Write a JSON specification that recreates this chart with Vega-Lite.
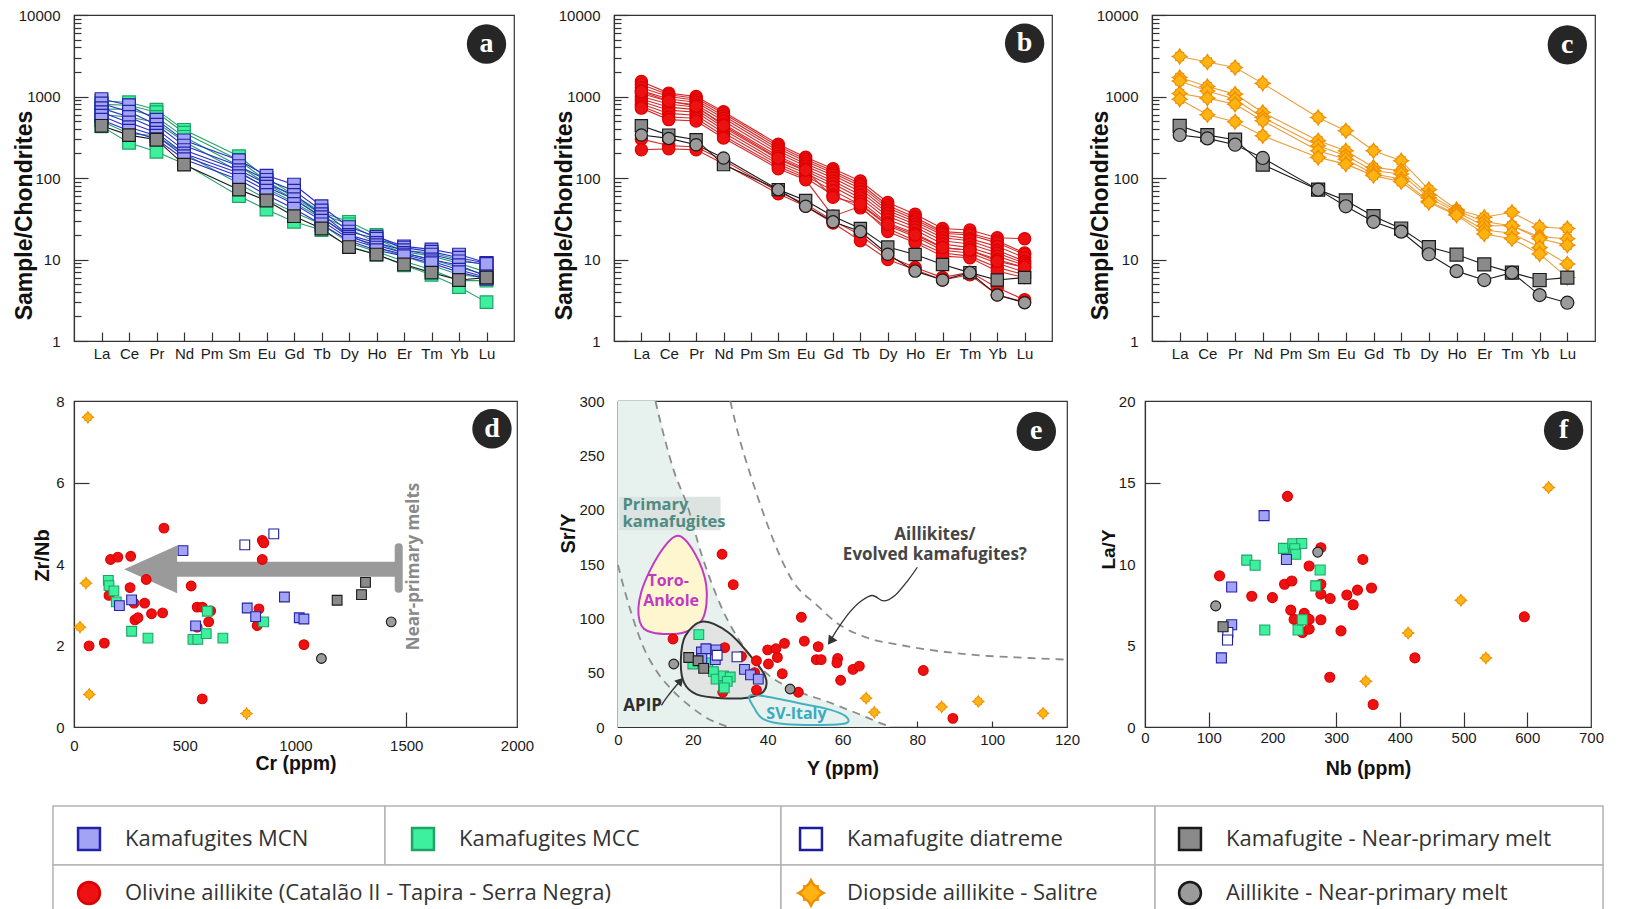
{
"$schema": "https://vega.github.io/schema/vega-lite/v6.json",
"padding": {"left": 12, "top": 7, "right": 0, "bottom": 0},
"background": "white",
"config": {
  "font": "Liberation Sans",
  "view": {"stroke": "#333333", "strokeWidth": 1.2},
  "axis": {"grid": false, "domainColor": "#333333", "domainWidth": 1.2, "tickColor": "#333333", "tickWidth": 1.2, "labelColor": "#1a1a1a", "titleColor": "#111111", "labelFont": "Liberation Sans", "titleFont": "Liberation Sans", "labelFontSize": 15, "titleFontWeight": "bold", "labelFlush": false, "labelOverlap": false}
},
"datasets": {
  "ree": [
    {"p":"a","g":"MCC","id":"g1","La":880,"Ce":850,"Pr":690,"Nd":390,"Sm":185,"Eu":100,"Gd":62,"Tb":38,"Dy":29,"Ho":20,"Er":13,"Tm":12,"Yb":10,"Lu":8.5},
    {"p":"a","g":"MCC","id":"g2","La":800,"Ce":780,"Pr":640,"Nd":360,"Sm":165,"Eu":92,"Gd":58,"Tb":36,"Dy":27,"Ho":18,"Er":12.5,"Tm":11,"Yb":9,"Lu":7},
    {"p":"a","g":"MCC","id":"g3","La":700,"Ce":700,"Pr":560,"Nd":320,"Sm":140,"Eu":85,"Gd":55,"Tb":34,"Dy":24,"Ho":16,"Er":12,"Tm":10,"Yb":8,"Lu":6.5},
    {"p":"a","g":"MCC","id":"g4","La":600,"Ce":560,"Pr":480,"Nd":280,"Sm":120,"Eu":75,"Gd":50,"Tb":32,"Dy":20,"Ho":14,"Er":11,"Tm":8.5,"Yb":6.5,"Lu":6},
    {"p":"a","g":"MCC","id":"g5","La":500,"Ce":350,"Pr":330,"Nd":200,"Sm":85,"Eu":55,"Gd":38,"Tb":27,"Dy":16,"Ho":12.5,"Er":9.5,"Tm":7.5,"Yb":5.5,"Lu":5.5},
    {"p":"a","g":"MCC","id":"g6","La":430,"Ce":270,"Pr":210,"Nd":150,"Sm":60,"Eu":41,"Gd":29,"Tb":23,"Dy":14.5,"Ho":11.5,"Er":8.5,"Tm":6.5,"Yb":4.6,"Lu":3.0},
    {"p":"a","g":"MCN","id":"m1","La":930,"Ce":780,"Pr":520,"Nd":290,"Sm":165,"Eu":107,"Gd":83,"Tb":45,"Dy":25,"Ho":19,"Er":14.5,"Tm":13.3,"Yb":11.5,"Lu":9.1},
    {"p":"a","g":"MCN","id":"m2","La":820,"Ce":650,"Pr":450,"Nd":250,"Sm":140,"Eu":95,"Gd":70,"Tb":40,"Dy":22,"Ho":18,"Er":14,"Tm":12.5,"Yb":10.5,"Lu":9.0},
    {"p":"a","g":"MCN","id":"m3","La":720,"Ce":560,"Pr":400,"Nd":220,"Sm":125,"Eu":85,"Gd":62,"Tb":36,"Dy":20,"Ho":16,"Er":13,"Tm":11.5,"Yb":9.5,"Lu":8.8},
    {"p":"a","g":"MCN","id":"m4","La":640,"Ce":480,"Pr":360,"Nd":200,"Sm":115,"Eu":78,"Gd":55,"Tb":33,"Dy":19,"Ho":15,"Er":12,"Tm":10,"Yb":8.5,"Lu":6.2},
    {"p":"a","g":"MCN","id":"m5","La":580,"Ce":420,"Pr":330,"Nd":185,"Sm":105,"Eu":70,"Gd":48,"Tb":30,"Dy":18,"Ho":14,"Er":11.5,"Tm":9.5,"Yb":7.5,"Lu":6.0},
    {"p":"a","g":"MCN","id":"m6","La":520,"Ce":380,"Pr":300,"Nd":170,"Sm":95,"Eu":62,"Gd":42,"Tb":27,"Dy":17,"Ho":13,"Er":11,"Tm":9,"Yb":7,"Lu":5.8},
    {"p":"b","g":"Olivine","id":"r1","La":1530,"Ce":1100,"Pr":1000,"Nd":650,"Sm":260,"Eu":180,"Gd":130,"Tb":92,"Dy":50,"Ho":36,"Er":24,"Tm":23,"Yb":18.5,"Lu":18},
    {"p":"b","g":"Olivine","id":"r2","La":1400,"Ce":1050,"Pr":950,"Nd":620,"Sm":245,"Eu":170,"Gd":122,"Tb":85,"Dy":46,"Ho":33,"Er":22,"Tm":21,"Yb":17,"Lu":12},
    {"p":"b","g":"Olivine","id":"r3","La":1280,"Ce":1000,"Pr":900,"Nd":580,"Sm":230,"Eu":160,"Gd":115,"Tb":80,"Dy":43,"Ho":31,"Er":21,"Tm":20,"Yb":16,"Lu":11.5},
    {"p":"b","g":"Olivine","id":"r4","La":1180,"Ce":930,"Pr":850,"Nd":540,"Sm":215,"Eu":150,"Gd":108,"Tb":74,"Dy":40,"Ho":29,"Er":20,"Tm":18,"Yb":14.5,"Lu":10.5},
    {"p":"b","g":"Olivine","id":"r5","La":1090,"Ce":870,"Pr":790,"Nd":500,"Sm":200,"Eu":140,"Gd":100,"Tb":68,"Dy":37,"Ho":27,"Er":18.5,"Tm":17,"Yb":13,"Lu":9.5},
    {"p":"b","g":"Olivine","id":"r6","La":1000,"Ce":810,"Pr":740,"Nd":460,"Sm":185,"Eu":130,"Gd":92,"Tb":62,"Dy":34,"Ho":25,"Er":17,"Tm":15.5,"Yb":12,"Lu":9},
    {"p":"b","g":"Olivine","id":"r7","La":930,"Ce":740,"Pr":690,"Nd":420,"Sm":170,"Eu":122,"Gd":85,"Tb":57,"Dy":31,"Ho":23,"Er":15.5,"Tm":14,"Yb":11,"Lu":8.5},
    {"p":"b","g":"Olivine","id":"r8","La":870,"Ce":680,"Pr":640,"Nd":390,"Sm":158,"Eu":114,"Gd":78,"Tb":52,"Dy":28,"Ho":21,"Er":14,"Tm":13,"Yb":10,"Lu":8},
    {"p":"b","g":"Olivine","id":"r9","La":810,"Ce":620,"Pr":590,"Nd":360,"Sm":148,"Eu":106,"Gd":70,"Tb":47,"Dy":26,"Ho":19,"Er":13,"Tm":12,"Yb":9,"Lu":7},
    {"p":"b","g":"Olivine","id":"r10","La":760,"Ce":560,"Pr":540,"Nd":330,"Sm":138,"Eu":100,"Gd":62,"Tb":43,"Dy":24,"Ho":17,"Er":12,"Tm":11,"Yb":8,"Lu":6.5},
    {"p":"b","g":"Olivine","id":"r11","La":720,"Ce":520,"Pr":500,"Nd":310,"Sm":130,"Eu":95,"Gd":34,"Tb":45,"Dy":22,"Ho":16,"Er":11,"Tm":10.5,"Yb":7.2,"Lu":6},
    {"p":"b","g":"Olivine","id":"r12","La":1150,"Ce":880,"Pr":760,"Nd":440,"Sm":175,"Eu":125,"Gd":58,"Tb":48,"Dy":27,"Ho":20,"Er":14,"Tm":13,"Yb":9.5,"Lu":8},
    {"p":"b","g":"Olivine","id":"r13","La":300,"Ce":250,"Pr":240,"Nd":165,"Sm":68,"Eu":48,"Gd":30,"Tb":20,"Dy":11,"Ho":8,"Er":6,"Tm":7,"Yb":4.5,"Lu":3.2},
    {"p":"b","g":"Olivine","id":"r14","La":222,"Ce":228,"Pr":222,"Nd":150,"Sm":64,"Eu":45,"Gd":28,"Tb":17,"Dy":10,"Ho":7.5,"Er":5.6,"Tm":6.5,"Yb":3.7,"Lu":3.0},
    {"p":"c","g":"Diopside","id":"s1","La":3090,"Ce":2650,"Pr":2270,"Nd":1450,"Sm":553,"Eu":380,"Gd":216,"Tb":163,"Dy":72,"Ho":41,"Er":33,"Tm":38,"Yb":25,"Lu":24},
    {"p":"c","g":"Diopside","id":"s2","La":1710,"Ce":1325,"Pr":1070,"Nd":637,"Sm":286,"Eu":216,"Gd":135,"Tb":123,"Dy":62,"Ho":40,"Er":29,"Tm":26,"Yb":19,"Lu":18},
    {"p":"c","g":"Diopside","id":"s3","La":1550,"Ce":1170,"Pr":927,"Nd":553,"Sm":249,"Eu":187,"Gd":123,"Tb":112,"Dy":57,"Ho":38,"Er":26,"Tm":26,"Yb":18,"Lu":15},
    {"p":"c","g":"Diopside","id":"s4","La":1090,"Ce":955,"Pr":805,"Nd":504,"Sm":216,"Eu":170,"Gd":112,"Tb":97,"Dy":52,"Ho":36,"Er":23,"Tm":21,"Yb":14,"Lu":8.8},
    {"p":"c","g":"Diopside","id":"s5","La":927,"Ce":597,"Pr":490,"Nd":330,"Sm":179,"Eu":148,"Gd":107,"Tb":90,"Dy":50,"Ho":35,"Er":20.6,"Tm":18,"Yb":11.7,"Lu":6},
    {"p":"abc","g":"KNPM","id":"k1","La":437,"Ce":336,"Pr":295,"Nd":146,"Sm":72,"Eu":53,"Gd":34,"Tb":24,"Dy":14.2,"Ho":11.5,"Er":8.7,"Tm":6.9,"Yb":5.6,"Lu":6.0},
    {"p":"bc","g":"ANPM","id":"n1","La":337,"Ce":306,"Pr":256,"Nd":176,"Sm":72,"Eu":45,"Gd":29,"Tb":22,"Dy":11.6,"Ho":7.2,"Er":5.6,"Tm":6.9,"Yb":3.66,"Lu":2.95}
  ],
  "scat": [
    {"p":"d","g":"Olivine","x":68,"y":1.99},{"p":"d","g":"Olivine","x":137,"y":2.06},{"p":"d","g":"Olivine","x":165,"y":4.11},{"p":"d","g":"Olivine","x":198,"y":4.17},{"p":"d","g":"Olivine","x":256,"y":4.19},{"p":"d","g":"Olivine","x":158,"y":3.23},{"p":"d","g":"Olivine","x":253,"y":3.42},{"p":"d","g":"Olivine","x":271,"y":3.04},{"p":"d","g":"Olivine","x":275,"y":2.63},{"p":"d","g":"Olivine","x":289,"y":2.68},{"p":"d","g":"Olivine","x":319,"y":3.04},{"p":"d","g":"Olivine","x":326,"y":3.62},{"p":"d","g":"Olivine","x":350,"y":2.78},{"p":"d","g":"Olivine","x":400,"y":2.8},{"p":"d","g":"Olivine","x":406,"y":4.88},{"p":"d","g":"Olivine","x":529,"y":3.46},{"p":"d","g":"Olivine","x":556,"y":2.94},{"p":"d","g":"Olivine","x":579,"y":2.94},{"p":"d","g":"Olivine","x":617,"y":2.85},{"p":"d","g":"Olivine","x":608,"y":2.58},{"p":"d","g":"Olivine","x":556,"y":2.45},{"p":"d","g":"Olivine","x":579,"y":0.69},{"p":"d","g":"Olivine","x":850,"y":4.58},{"p":"d","g":"Olivine","x":857,"y":4.52},{"p":"d","g":"Olivine","x":850,"y":4.11},{"p":"d","g":"Olivine","x":835,"y":2.9},{"p":"d","g":"Olivine","x":827,"y":2.49},{"p":"d","g":"Olivine","x":1038,"y":2.02},
    {"p":"d","g":"Diopside","x":63,"y":7.6},{"p":"d","g":"Diopside","x":54,"y":3.53},{"p":"d","g":"Diopside","x":27,"y":2.45},{"p":"d","g":"Diopside","x":69,"y":0.8},{"p":"d","g":"Diopside","x":779,"y":0.33},
    {"p":"d","g":"MCC","x":155,"y":3.6},{"p":"d","g":"MCC","x":158,"y":3.47},{"p":"d","g":"MCC","x":180,"y":3.34},{"p":"d","g":"MCC","x":191,"y":3.07},{"p":"d","g":"MCC","x":260,"y":2.35},{"p":"d","g":"MCC","x":334,"y":2.18},{"p":"d","g":"MCC","x":537,"y":2.15},{"p":"d","g":"MCC","x":559,"y":2.15},{"p":"d","g":"MCC","x":597,"y":2.29},{"p":"d","g":"MCC","x":602,"y":2.84},{"p":"d","g":"MCC","x":672,"y":2.18},{"p":"d","g":"MCC","x":856,"y":2.58},
    {"p":"d","g":"MCN","x":492,"y":4.33},{"p":"d","g":"MCN","x":260,"y":3.12},{"p":"d","g":"MCN","x":205,"y":2.98},{"p":"d","g":"MCN","x":549,"y":2.48},{"p":"d","g":"MCN","x":782,"y":2.92},{"p":"d","g":"MCN","x":820,"y":2.71},{"p":"d","g":"MCN","x":950,"y":3.19},{"p":"d","g":"MCN","x":1017,"y":2.68},{"p":"d","g":"MCN","x":1038,"y":2.65},
    {"p":"d","g":"Diatreme","x":771,"y":4.47},{"p":"d","g":"Diatreme","x":902,"y":4.74},
    {"p":"d","g":"KNPM","x":1188,"y":3.11},{"p":"d","g":"KNPM","x":1298,"y":3.25},{"p":"d","g":"KNPM","x":1316,"y":3.55},
    {"p":"d","g":"ANPM","x":1117,"y":1.68},{"p":"d","g":"ANPM","x":1432,"y":2.58},
    {"p":"e","g":"Olivine","x":14.7,"y":81},{"p":"e","g":"Olivine","x":27.8,"y":159},{"p":"e","g":"Olivine","x":30.8,"y":131},{"p":"e","g":"Olivine","x":28.5,"y":73},{"p":"e","g":"Olivine","x":33,"y":65},{"p":"e","g":"Olivine","x":36.5,"y":50},{"p":"e","g":"Olivine","x":37,"y":34},{"p":"e","g":"Olivine","x":28,"y":32},{"p":"e","g":"Olivine","x":37,"y":61},{"p":"e","g":"Olivine","x":40,"y":71},{"p":"e","g":"Olivine","x":40.2,"y":58},{"p":"e","g":"Olivine","x":42.2,"y":72},{"p":"e","g":"Olivine","x":42.6,"y":64},{"p":"e","g":"Olivine","x":44.5,"y":77},{"p":"e","g":"Olivine","x":43.9,"y":49},{"p":"e","g":"Olivine","x":49,"y":101},{"p":"e","g":"Olivine","x":49.8,"y":79},{"p":"e","g":"Olivine","x":53.5,"y":74},{"p":"e","g":"Olivine","x":53,"y":62},{"p":"e","g":"Olivine","x":54.3,"y":62},{"p":"e","g":"Olivine","x":58.7,"y":63},{"p":"e","g":"Olivine","x":58.5,"y":59},{"p":"e","g":"Olivine","x":59.5,"y":43},{"p":"e","g":"Olivine","x":62.8,"y":53},{"p":"e","g":"Olivine","x":64.5,"y":56},{"p":"e","g":"Olivine","x":48.2,"y":32},{"p":"e","g":"Olivine","x":81.6,"y":52},{"p":"e","g":"Olivine","x":89.5,"y":8},
    {"p":"e","g":"Diopside","x":66.3,"y":26.5},{"p":"e","g":"Diopside","x":68.5,"y":13.5},{"p":"e","g":"Diopside","x":86.5,"y":18.5},{"p":"e","g":"Diopside","x":96.3,"y":23.5},{"p":"e","g":"Diopside","x":113.6,"y":12.6},
    {"p":"e","g":"MCC","x":21.6,"y":85},{"p":"e","g":"MCC","x":20,"y":58},{"p":"e","g":"MCC","x":24,"y":59},{"p":"e","g":"MCC","x":25.5,"y":51},{"p":"e","g":"MCC","x":26.2,"y":44},{"p":"e","g":"MCC","x":28.2,"y":47},{"p":"e","g":"MCC","x":30,"y":46},{"p":"e","g":"MCC","x":28.2,"y":38},{"p":"e","g":"MCC","x":29.2,"y":42},{"p":"e","g":"MCC","x":28.4,"y":36},
    {"p":"e","g":"MCN","x":22.3,"y":69},{"p":"e","g":"MCN","x":23.5,"y":72},{"p":"e","g":"MCN","x":26.2,"y":71},{"p":"e","g":"MCN","x":26,"y":62},{"p":"e","g":"MCN","x":22.4,"y":63},{"p":"e","g":"MCN","x":33.8,"y":53},{"p":"e","g":"MCN","x":35.4,"y":48},{"p":"e","g":"MCN","x":37.5,"y":44},
    {"p":"e","g":"Diatreme","x":31.8,"y":64.5},{"p":"e","g":"Diatreme","x":26.5,"y":66},
    {"p":"e","g":"KNPM","x":18.9,"y":64},{"p":"e","g":"KNPM","x":21.4,"y":61},{"p":"e","g":"KNPM","x":22.9,"y":54},
    {"p":"e","g":"ANPM","x":14.9,"y":58},{"p":"e","g":"ANPM","x":46,"y":35},
    {"p":"f","g":"Olivine","x":223.6,"y":14.15},{"p":"f","g":"Olivine","x":117,"y":9.27},{"p":"f","g":"Olivine","x":167.5,"y":8.02},{"p":"f","g":"Olivine","x":200,"y":7.94},{"p":"f","g":"Olivine","x":219,"y":8.76},{"p":"f","g":"Olivine","x":230.4,"y":8.96},{"p":"f","g":"Olivine","x":257.6,"y":9.88},{"p":"f","g":"Olivine","x":276,"y":11},{"p":"f","g":"Olivine","x":276,"y":8.76},{"p":"f","g":"Olivine","x":276,"y":8.15},{"p":"f","g":"Olivine","x":290.6,"y":7.88},{"p":"f","g":"Olivine","x":228.8,"y":7.17},{"p":"f","g":"Olivine","x":234,"y":6.6},{"p":"f","g":"Olivine","x":249.9,"y":6.97},{"p":"f","g":"Olivine","x":257.6,"y":6.6},{"p":"f","g":"Olivine","x":247.1,"y":5.8},{"p":"f","g":"Olivine","x":257.6,"y":6.0},{"p":"f","g":"Olivine","x":276,"y":6.58},{"p":"f","g":"Olivine","x":316.8,"y":8.1},{"p":"f","g":"Olivine","x":326.7,"y":7.5},{"p":"f","g":"Olivine","x":333.5,"y":8.4},{"p":"f","g":"Olivine","x":341.9,"y":10.28},{"p":"f","g":"Olivine","x":355.5,"y":8.53},{"p":"f","g":"Olivine","x":307.6,"y":5.9},{"p":"f","g":"Olivine","x":290,"y":3.05},{"p":"f","g":"Olivine","x":358.1,"y":1.38},{"p":"f","g":"Olivine","x":423.6,"y":4.24},{"p":"f","g":"Olivine","x":595.3,"y":6.76},
    {"p":"f","g":"Diopside","x":633.5,"y":14.7},{"p":"f","g":"Diopside","x":495.8,"y":7.78},{"p":"f","g":"Diopside","x":413,"y":5.76},{"p":"f","g":"Diopside","x":535,"y":4.24},{"p":"f","g":"Diopside","x":346.6,"y":2.81},
    {"p":"f","g":"MCC","x":159.7,"y":10.24},{"p":"f","g":"MCC","x":172.8,"y":9.92},{"p":"f","g":"MCC","x":217.3,"y":10.96},{"p":"f","g":"MCC","x":232,"y":11.24},{"p":"f","g":"MCC","x":246,"y":11.26},{"p":"f","g":"MCC","x":235,"y":10.94},{"p":"f","g":"MCC","x":236.6,"y":10.6},{"p":"f","g":"MCC","x":274.9,"y":9.63},{"p":"f","g":"MCC","x":268,"y":8.66},{"p":"f","g":"MCC","x":188,"y":5.95},{"p":"f","g":"MCC","x":240.3,"y":5.95},{"p":"f","g":"MCC","x":247,"y":6.58},
    {"p":"f","g":"MCN","x":186.9,"y":12.97},{"p":"f","g":"MCN","x":222,"y":10.28},{"p":"f","g":"MCN","x":136,"y":8.59},{"p":"f","g":"MCN","x":136,"y":6.27},{"p":"f","g":"MCN","x":119.9,"y":4.24},
    {"p":"f","g":"Diatreme","x":130,"y":5.8},{"p":"f","g":"Diatreme","x":129.5,"y":5.34},
    {"p":"f","g":"KNPM","x":122.5,"y":6.15},
    {"p":"f","g":"ANPM","x":111,"y":7.43},{"p":"f","g":"ANPM","x":271.2,"y":10.73}
  ],
  "e_shade": [{"x":0,"y":300},{"x":10,"y":300},{"x":12.5,"y":265},{"x":15,"y":235},{"x":18.5,"y":204},{"x":22.4,"y":158},{"x":24.2,"y":140},{"x":27.8,"y":109},{"x":32.2,"y":81},{"x":36.6,"y":60},{"x":40.2,"y":48},{"x":47.3,"y":34},{"x":56.2,"y":23},{"x":65,"y":11},{"x":71.7,"y":1.5},{"x":73,"y":0}],
  "e_curves": [
    {"c":"c1","x":0,"y":149},{"c":"c1","x":1.9,"y":124},{"c":"c1","x":4.1,"y":99},{"c":"c1","x":6.6,"y":75},{"c":"c1","x":10,"y":53},{"c":"c1","x":14.2,"y":35},{"c":"c1","x":19.3,"y":19},{"c":"c1","x":23.6,"y":8.6},{"c":"c1","x":29.5,"y":0},
    {"c":"c2","x":10,"y":300},{"c":"c2","x":12.5,"y":265},{"c":"c2","x":15,"y":235},{"c":"c2","x":18.5,"y":204},{"c":"c2","x":22.4,"y":158},{"c":"c2","x":24.2,"y":140},{"c":"c2","x":27.8,"y":109},{"c":"c2","x":32.2,"y":81},{"c":"c2","x":36.6,"y":60},{"c":"c2","x":40.2,"y":48},{"c":"c2","x":47.3,"y":34},{"c":"c2","x":56.2,"y":23},{"c":"c2","x":65,"y":11},{"c":"c2","x":71.7,"y":1.5},{"c":"c2","x":73,"y":0},
    {"c":"c3","x":30,"y":300},{"c":"c3","x":32.5,"y":265},{"c":"c3","x":35.4,"y":232},{"c":"c3","x":38.5,"y":200},{"c":"c3","x":41.4,"y":173},{"c":"c3","x":46.4,"y":136},{"c":"c3","x":53.2,"y":112},{"c":"c3","x":59.2,"y":94},{"c":"c3","x":65.9,"y":83},{"c":"c3","x":76.2,"y":75},{"c":"c3","x":93,"y":67},{"c":"c3","x":110,"y":63.5},{"c":"c3","x":120,"y":62}
  ],
  "e_poly": [
    {"k":"toro","i":0,"x":15.9,"y":176},{"k":"toro","i":1,"x":20.5,"y":160},{"k":"toro","i":2,"x":23.6,"y":130},{"k":"toro","i":3,"x":22.7,"y":100},{"k":"toro","i":4,"x":17.6,"y":87},{"k":"toro","i":5,"x":9.2,"y":87},{"k":"toro","i":6,"x":5.8,"y":97},{"k":"toro","i":7,"x":6.2,"y":124},{"k":"toro","i":8,"x":10.8,"y":158},
    {"k":"apip","i":0,"x":22.7,"y":97},{"k":"apip","i":1,"x":29.5,"y":87},{"k":"apip","i":2,"x":35.4,"y":65.5},{"k":"apip","i":3,"x":39.3,"y":47},{"k":"apip","i":4,"x":39,"y":33},{"k":"apip","i":5,"x":34.6,"y":27},{"k":"apip","i":6,"x":27.8,"y":26.5},{"k":"apip","i":7,"x":21,"y":30},{"k":"apip","i":8,"x":17.6,"y":41},{"k":"apip","i":9,"x":16.8,"y":62},{"k":"apip","i":10,"x":18,"y":84},
    {"k":"sv","i":0,"x":35.3,"y":29},{"k":"sv","i":1,"x":41.4,"y":27},{"k":"sv","i":2,"x":49.8,"y":21},{"k":"sv","i":3,"x":56.6,"y":16},{"k":"sv","i":4,"x":60.8,"y":10},{"k":"sv","i":5,"x":61.3,"y":4},{"k":"sv","i":6,"x":57,"y":2},{"k":"sv","i":7,"x":45,"y":2.5},{"k":"sv","i":8,"x":39,"y":7},{"k":"sv","i":9,"x":36.5,"y":17}
  ],
  "e_arrows": [
    {"k":"aill","i":0,"x":80,"y":147},{"k":"aill","i":1,"x":77.5,"y":135},{"k":"aill","i":2,"x":74,"y":121},{"k":"aill","i":3,"x":71,"y":116},{"k":"aill","i":4,"x":68,"y":121},{"k":"aill","i":5,"x":65,"y":116},{"k":"aill","i":6,"x":62,"y":106},{"k":"aill","i":7,"x":59,"y":92},{"k":"aill","i":8,"x":57.2,"y":82},
    {"k":"apip","i":0,"x":11.6,"y":20},{"k":"apip","i":1,"x":13,"y":27},{"k":"apip","i":2,"x":14.8,"y":35},{"k":"apip","i":3,"x":16.3,"y":41}
  ],
  "e_text": [
    {"k":"primary","x":1.2,"y":204.5,"t":"Primary"},{"k":"primary","x":1.2,"y":188.5,"t":"kamafugites"},
    {"k":"toro","x":13.4,"y":134,"t":"Toro-"},{"k":"toro","x":14.2,"y":115.5,"t":"Ankole"},
    {"k":"apip","x":6.6,"y":19.5,"t":"APIP"},
    {"k":"sv","x":47.7,"y":11.7,"t":"SV-Italy"},
    {"k":"aill","x":84.7,"y":177,"t":"Aillikites/"},{"k":"aill","x":84.7,"y":158.5,"t":"Evolved kamafugites?"}
  ],
  "leg_cells": [
    {"c0":0,"c1":1,"r0":0,"r1":1},{"c0":1,"c1":2,"r0":0,"r1":1},{"c0":2,"c1":3,"r0":0,"r1":1},{"c0":3,"c1":4,"r0":0,"r1":1},
    {"c0":0,"c1":2,"r0":1,"r1":2},{"c0":2,"c1":3,"r0":1,"r1":2},{"c0":3,"c1":4,"r0":1,"r1":2}
  ],
  "leg_items": [
    {"g":"MCN","t":"Kamafugites MCN","c":0,"r":0},
    {"g":"MCC","t":"Kamafugites MCC","c":1,"r":0},
    {"g":"Diatreme","t":"Kamafugite diatreme","c":2,"r":0},
    {"g":"KNPM","t":"Kamafugite - Near-primary melt","c":3,"r":0},
    {"g":"Olivine","t":"Olivine aillikite (Catalão II - Tapira - Serra Negra)","c":0,"r":1},
    {"g":"Diopside","t":"Diopside aillikite - Salitre","c":2,"r":1},
    {"g":"ANPM","t":"Aillikite - Near-primary melt","c":3,"r":1}
  ]
},
"vconcat": [
 {"vconcat": [
  {"hconcat": [
   {"width": 440, "height": 326,
    "encoding": {
     "x": {"field":"el","type":"ordinal","sort":["La","Ce","Pr","Nd","Pm","Sm","Eu","Gd","Tb","Dy","Ho","Er","Tm","Yb","Lu"],"scale":{"type":"point","domain":["La","Ce","Pr","Nd","Pm","Sm","Eu","Gd","Tb","Dy","Ho","Er","Tm","Yb","Lu"],"padding":1},"axis":{"title":null,"labelAngle":0,"labelPadding":14.5,"tickSize":-9}},
     "y": {"field":"v","type":"quantitative","scale":{"type":"log","domain":[1,10000],"nice":false},"axis":{"title":"Sample/Chondrites","titleFontSize":23,"titleX":-38,"titleY":200,"titleAngle":-90,"titleBaseline":"bottom","values":[1,2,3,4,5,6,7,8,9,10,20,30,40,50,60,70,80,90,100,200,300,400,500,600,700,800,900,1000,2000,3000,4000,5000,6000,7000,8000,9000,10000],"format":"d","labelExpr":"indexof([1,10,100,1000,10000], datum.value) >= 0 ? datum.label : ''","tickSize":{"condition":{"test":"indexof([1,10,100,1000,10000], datum.value) >= 0","value":-14},"value":-7},"labelPadding":28}}
    },
    "layer": [
     {"data":{"name":"ree"},"transform":[{"filter":"indexof(datum.p,'a') >= 0"},{"fold":["La","Ce","Pr","Nd","Sm","Eu","Gd","Tb","Dy","Ho","Er","Tm","Yb","Lu"],"as":["el","v"]}],
      "layer":[
       {"mark":{"type":"line","strokeWidth":1.1},"encoding":{"color":{"field":"g","type":"nominal","scale":{"domain":["MCN","MCC","Diatreme","KNPM","Olivine","Diopside","ANPM"],"range":["#2b2bd0","#27a070","#2b2bd0","#1a1a1a","#d42a2a","#eb9d3a","#1a1a1a"]},"legend":null},"detail":{"field":"id","type":"nominal"}}},
       {"mark":{"type":"point","filled":true,"opacity":1,"size":160,"strokeWidth":1.2},"encoding":{
         "shape":{"field":"g","type":"nominal","scale":{"domain":["MCN","MCC","Diatreme","KNPM","Olivine","Diopside","ANPM"],"range":["square","square","square","square","circle","M0,-1.15 Q0.3,-0.55 0.6,-0.6 Q0.55,-0.3 1.15,0 Q0.55,0.3 0.6,0.6 Q0.3,0.55 0,1.15 Q-0.3,0.55 -0.6,0.6 Q-0.55,0.3 -1.15,0 Q-0.55,-0.3 -0.6,-0.6 Q-0.3,-0.55 0,-1.15 Z","circle"]},"legend":null},
         "fill":{"field":"g","type":"nominal","scale":{"domain":["MCN","MCC","Diatreme","KNPM","Olivine","Diopside","ANPM"],"range":["#a3a3f5","#3df09e","#ffffff","#8a8a8a","#ee1111","#ffb412","#9b9b9b"]},"legend":null},
         "stroke":{"field":"g","type":"nominal","scale":{"domain":["MCN","MCC","Diatreme","KNPM","Olivine","Diopside","ANPM"],"range":["#2323a8","#1ea565","#1c1c9c","#1a1a1a","#dd0000","#ef8e00","#1a1a1a"]},"legend":null}}}
      ]},
     {"data":{"values":[{"el":"Lu","v":4400,"t":"a"}]},"layer":[
       {"mark":{"type":"point","shape":"circle","filled":true,"opacity":1,"size":1550,"color":"#262626"}},
       {"mark":{"type":"text","font":"Liberation Serif","fontWeight":"bold","fontSize":28,"color":"white","baseline":"middle","align":"center"},"encoding":{"text":{"field":"t"}}}
     ]}
    ]},
   {"width": 438, "height": 326,
    "encoding": {
     "x": {"field":"el","type":"ordinal","sort":["La","Ce","Pr","Nd","Pm","Sm","Eu","Gd","Tb","Dy","Ho","Er","Tm","Yb","Lu"],"scale":{"type":"point","domain":["La","Ce","Pr","Nd","Pm","Sm","Eu","Gd","Tb","Dy","Ho","Er","Tm","Yb","Lu"],"padding":1},"axis":{"title":null,"labelAngle":0,"labelPadding":14.5,"tickSize":-9}},
     "y": {"field":"v","type":"quantitative","scale":{"type":"log","domain":[1,10000],"nice":false},"axis":{"title":"Sample/Chondrites","titleFontSize":23,"titleX":-38,"titleY":200,"titleAngle":-90,"titleBaseline":"bottom","values":[1,2,3,4,5,6,7,8,9,10,20,30,40,50,60,70,80,90,100,200,300,400,500,600,700,800,900,1000,2000,3000,4000,5000,6000,7000,8000,9000,10000],"format":"d","labelExpr":"indexof([1,10,100,1000,10000], datum.value) >= 0 ? datum.label : ''","tickSize":{"condition":{"test":"indexof([1,10,100,1000,10000], datum.value) >= 0","value":-14},"value":-7},"labelPadding":28}}
    },
    "layer": [
     {"data":{"name":"ree"},"transform":[{"filter":"indexof(datum.p,'b') >= 0"},{"fold":["La","Ce","Pr","Nd","Sm","Eu","Gd","Tb","Dy","Ho","Er","Tm","Yb","Lu"],"as":["el","v"]}],
      "layer":[
       {"mark":{"type":"line","strokeWidth":1.1},"encoding":{"color":{"field":"g","type":"nominal","scale":{"domain":["MCN","MCC","Diatreme","KNPM","Olivine","Diopside","ANPM"],"range":["#2b2bd0","#27a070","#2b2bd0","#1a1a1a","#d42a2a","#eb9d3a","#1a1a1a"]},"legend":null},"detail":{"field":"id","type":"nominal"}}},
       {"mark":{"type":"point","filled":true,"opacity":1,"size":150,"strokeWidth":1.2},"encoding":{
         "shape":{"field":"g","type":"nominal","scale":{"domain":["MCN","MCC","Diatreme","KNPM","Olivine","Diopside","ANPM"],"range":["square","square","square","square","circle","M0,-1.15 Q0.3,-0.55 0.6,-0.6 Q0.55,-0.3 1.15,0 Q0.55,0.3 0.6,0.6 Q0.3,0.55 0,1.15 Q-0.3,0.55 -0.6,0.6 Q-0.55,0.3 -1.15,0 Q-0.55,-0.3 -0.6,-0.6 Q-0.3,-0.55 0,-1.15 Z","circle"]},"legend":null},
         "fill":{"field":"g","type":"nominal","scale":{"domain":["MCN","MCC","Diatreme","KNPM","Olivine","Diopside","ANPM"],"range":["#a3a3f5","#3df09e","#ffffff","#8a8a8a","#ee1111","#ffb412","#9b9b9b"]},"legend":null},
         "stroke":{"field":"g","type":"nominal","scale":{"domain":["MCN","MCC","Diatreme","KNPM","Olivine","Diopside","ANPM"],"range":["#2323a8","#1ea565","#1c1c9c","#1a1a1a","#dd0000","#ef8e00","#1a1a1a"]},"legend":null}}}
      ]},
     {"data":{"values":[{"el":"Lu","v":4500,"t":"b"}]},"layer":[
       {"mark":{"type":"point","shape":"circle","filled":true,"opacity":1,"size":1550,"color":"#262626"}},
       {"mark":{"type":"text","font":"Liberation Serif","fontWeight":"bold","fontSize":28,"color":"white","baseline":"middle","align":"center"},"encoding":{"text":{"field":"t"}}}
     ]}
    ]},
   {"width": 443, "height": 326,
    "encoding": {
     "x": {"field":"el","type":"ordinal","sort":["La","Ce","Pr","Nd","Pm","Sm","Eu","Gd","Tb","Dy","Ho","Er","Tm","Yb","Lu"],"scale":{"type":"point","domain":["La","Ce","Pr","Nd","Pm","Sm","Eu","Gd","Tb","Dy","Ho","Er","Tm","Yb","Lu"],"padding":1},"axis":{"title":null,"labelAngle":0,"labelPadding":14.5,"tickSize":-9}},
     "y": {"field":"v","type":"quantitative","scale":{"type":"log","domain":[1,10000],"nice":false},"axis":{"title":"Sample/Chondrites","titleFontSize":23,"titleX":-40,"titleY":200,"titleAngle":-90,"titleBaseline":"bottom","values":[1,2,3,4,5,6,7,8,9,10,20,30,40,50,60,70,80,90,100,200,300,400,500,600,700,800,900,1000,2000,3000,4000,5000,6000,7000,8000,9000,10000],"format":"d","labelExpr":"indexof([1,10,100,1000,10000], datum.value) >= 0 ? datum.label : ''","tickSize":{"condition":{"test":"indexof([1,10,100,1000,10000], datum.value) >= 0","value":-14},"value":-7},"labelPadding":28}}
    },
    "layer": [
     {"data":{"name":"ree"},"transform":[{"filter":"indexof(datum.p,'c') >= 0"},{"fold":["La","Ce","Pr","Nd","Sm","Eu","Gd","Tb","Dy","Ho","Er","Tm","Yb","Lu"],"as":["el","v"]}],
      "layer":[
       {"mark":{"type":"line","strokeWidth":1.1},"encoding":{"color":{"field":"g","type":"nominal","scale":{"domain":["MCN","MCC","Diatreme","KNPM","Olivine","Diopside","ANPM"],"range":["#2b2bd0","#27a070","#2b2bd0","#1a1a1a","#d42a2a","#eb9d3a","#1a1a1a"]},"legend":null},"detail":{"field":"id","type":"nominal"}}},
       {"mark":{"type":"point","filled":true,"opacity":1,"size":170,"strokeWidth":1.2},"encoding":{
         "shape":{"field":"g","type":"nominal","scale":{"domain":["MCN","MCC","Diatreme","KNPM","Olivine","Diopside","ANPM"],"range":["square","square","square","square","circle","M0,-1.15 Q0.3,-0.55 0.6,-0.6 Q0.55,-0.3 1.15,0 Q0.55,0.3 0.6,0.6 Q0.3,0.55 0,1.15 Q-0.3,0.55 -0.6,0.6 Q-0.55,0.3 -1.15,0 Q-0.55,-0.3 -0.6,-0.6 Q-0.3,-0.55 0,-1.15 Z","circle"]},"legend":null},
         "fill":{"field":"g","type":"nominal","scale":{"domain":["MCN","MCC","Diatreme","KNPM","Olivine","Diopside","ANPM"],"range":["#a3a3f5","#3df09e","#ffffff","#8a8a8a","#ee1111","#ffb412","#9b9b9b"]},"legend":null},
         "stroke":{"field":"g","type":"nominal","scale":{"domain":["MCN","MCC","Diatreme","KNPM","Olivine","Diopside","ANPM"],"range":["#2323a8","#1ea565","#1c1c9c","#1a1a1a","#dd0000","#ef8e00","#1a1a1a"]},"legend":null}}}
      ]},
     {"data":{"values":[{"el":"Lu","v":4300,"t":"c"}]},"layer":[
       {"mark":{"type":"point","shape":"circle","filled":true,"opacity":1,"size":1550,"color":"#262626"}},
       {"mark":{"type":"text","font":"Liberation Serif","fontWeight":"bold","fontSize":28,"color":"white","baseline":"middle","align":"center"},"encoding":{"text":{"field":"t"}}}
     ]}
    ]}
  ], "spacing": 100, "bounds": "flush"},
  {"hconcat": [
   {"width": 443, "height": 326,
    "encoding": {
     "x": {"field":"x","type":"quantitative","scale":{"domain":[0,2000],"nice":false,"zero":false},"axis":{"title":"Cr (ppm)","titleFontSize":19.5,"titleY":27,"titleBaseline":"top","values":[0,500,1000,1500,2000],"format":"d","tickSize":-15,"tickOpacity":{"condition":{"test":"datum.value == 1500","value":1},"value":0},"labelPadding":26.5}},
     "y": {"field":"y","type":"quantitative","scale":{"domain":[0,8],"nice":false,"zero":false},"axis":{"title":"Zr/Nb","titleFontSize":20,"titleX":-22,"titleY":154,"titleAngle":-90,"titleBaseline":"bottom","values":[0,2,4,6,8],"tickSize":-15,"tickOpacity":{"condition":{"test":"datum.value == 6","value":1},"value":0},"labelPadding":25}}
    },
    "layer": [
     {"data":{"values":[{"x":455,"x2":1465,"y":3.87}]},"mark":{"type":"rule","color":"#9a9a9a","strokeWidth":15},"encoding":{"x2":{"field":"x2"}}},
     {"data":{"values":[{"x":346,"y":3.87}]},"mark":{"type":"point","shape":"M-1,0 L1,-0.9 L1,0.9 Z","size":2809,"filled":true,"opacity":1,"color":"#9a9a9a","strokeWidth":0}},
     {"data":{"values":[{"x":1466,"y":3.39,"y2":4.41}]},"mark":{"type":"rule","color":"#9a9a9a","strokeWidth":8,"strokeCap":"round"},"encoding":{"y2":{"field":"y2"}}},
     {"data":{"values":[{"x":1534,"y":3.94,"t":"Near-primary melts"}]},"mark":{"type":"text","angle":270,"font":"Open Sans","fontWeight":"bold","fontSize":17,"color":"#8a8a8a","align":"center","baseline":"middle"},"encoding":{"text":{"field":"t"}}},
     {"data":{"name":"scat"},"transform":[{"filter":"datum.p == 'd'"}],"mark":{"type":"point","filled":true,"opacity":1,"size":95,"strokeWidth":1.1},"encoding":{
         "shape":{"field":"g","type":"nominal","scale":{"domain":["MCN","MCC","Diatreme","KNPM","Olivine","Diopside","ANPM"],"range":["square","square","square","square","circle","M0,-1.15 Q0.3,-0.55 0.6,-0.6 Q0.55,-0.3 1.15,0 Q0.55,0.3 0.6,0.6 Q0.3,0.55 0,1.15 Q-0.3,0.55 -0.6,0.6 Q-0.55,0.3 -1.15,0 Q-0.55,-0.3 -0.6,-0.6 Q-0.3,-0.55 0,-1.15 Z","circle"]},"legend":null},
         "fill":{"field":"g","type":"nominal","scale":{"domain":["MCN","MCC","Diatreme","KNPM","Olivine","Diopside","ANPM"],"range":["#a3a3f5","#3df09e","#ffffff","#8a8a8a","#ee1111","#ffb412","#9b9b9b"]},"legend":null},
         "stroke":{"field":"g","type":"nominal","scale":{"domain":["MCN","MCC","Diatreme","KNPM","Olivine","Diopside","ANPM"],"range":["#2323a8","#1ea565","#1c1c9c","#1a1a1a","#dd0000","#ef8e00","#1a1a1a"]},"legend":null}}},
     {"data":{"values":[{"x":1887,"y":7.32,"t":"d"}]},"layer":[
       {"mark":{"type":"point","shape":"circle","filled":true,"opacity":1,"size":1550,"color":"#262626"}},
       {"mark":{"type":"text","font":"Liberation Serif","fontWeight":"bold","fontSize":28,"color":"white","baseline":"middle","align":"center"},"encoding":{"text":{"field":"t"}}}
     ]}
    ]},
   {"hconcat": [
    {"width": 449, "height": 326,
     "encoding": {
      "x": {"field":"x","type":"quantitative","scale":{"domain":[0,120],"nice":false,"zero":false},"axis":{"title":"Y (ppm)","titleFontSize":19.5,"titleY":32,"titleBaseline":"top","values":[0,20,40,60,80,100,120],"tickSize":-6,"tickOpacity":{"condition":{"test":"indexof([20,80,100], datum.value) >= 0","value":1},"value":0},"labelPadding":11.5}},
      "y": {"field":"y","type":"quantitative","scale":{"domain":[0,300],"nice":false,"zero":false},"axis":{"title":"Sr/Y","titleFontSize":20,"titleX":-40,"titleY":132,"titleAngle":-90,"titleBaseline":"bottom","values":[0,50,100,150,200,250,300],"tickSize":-15,"tickOpacity":{"condition":{"test":"indexof([150,250], datum.value) >= 0","value":1},"value":0},"labelPadding":29}}
     },
     "layer": [
      {"data":{"name":"e_shade"},"mark":{"type":"area","color":"#e7f2ee","opacity":1,"interpolate":"monotone"},"encoding":{"y2":{"datum":0}}},
      {"data":{"values":[{"x":0.3,"x2":27.4,"y":181,"y2":212}]},"mark":{"type":"rect","color":"#dde3e1"},"encoding":{"x2":{"field":"x2"},"y2":{"field":"y2"}}},
      {"data":{"name":"e_curves"},"mark":{"type":"line","color":"#8c8c8c","strokeWidth":1.8,"strokeDash":[8,6],"interpolate":"monotone"},"encoding":{"detail":{"field":"c","type":"nominal"}}},
      {"data":{"name":"e_poly"},"transform":[{"filter":"datum.k == 'toro'"}],"mark":{"type":"line","interpolate":"cardinal-closed","fill":"#fdf6cf","stroke":"#c23ac2","strokeWidth":2},"encoding":{"order":{"field":"i","type":"quantitative"}}},
      {"data":{"name":"e_poly"},"transform":[{"filter":"datum.k == 'apip'"}],"mark":{"type":"line","interpolate":"cardinal-closed","fill":"#e1e1e1","fillOpacity":0.9,"stroke":"#333333","strokeWidth":2},"encoding":{"order":{"field":"i","type":"quantitative"}}},
      {"data":{"name":"e_poly"},"transform":[{"filter":"datum.k == 'sv'"}],"mark":{"type":"line","interpolate":"cardinal-closed","stroke":"#45b0c2","strokeWidth":2},"encoding":{"order":{"field":"i","type":"quantitative"}}},
      {"data":{"name":"e_arrows"},"mark":{"type":"line","color":"#333333","strokeWidth":1.3,"interpolate":"cardinal"},"encoding":{"detail":{"field":"k","type":"nominal"},"order":{"field":"i","type":"quantitative"}}},
      {"data":{"values":[{"x":56.8,"y":79}]},"mark":{"type":"point","shape":"triangle-down","angle":35,"size":110,"filled":true,"opacity":1,"color":"#333333"}},
      {"data":{"values":[{"x":16.7,"y":42.5}]},"mark":{"type":"point","shape":"triangle-up","angle":41,"size":90,"filled":true,"opacity":1,"color":"#333333"}},
      {"data":{"name":"e_text"},"transform":[{"filter":"datum.k == 'primary'"}],"mark":{"type":"text","align":"left","baseline":"middle","font":"Open Sans","fontWeight":"bold","fontSize":16.5,"color":"#4e8c82"},"encoding":{"text":{"field":"t"}}},
      {"data":{"name":"e_text"},"transform":[{"filter":"datum.k == 'toro'"}],"mark":{"type":"text","align":"center","baseline":"middle","font":"Open Sans","fontWeight":"bold","fontSize":16,"color":"#c23ac2"},"encoding":{"text":{"field":"t"}}},
      {"data":{"name":"e_text"},"transform":[{"filter":"datum.k == 'apip'"}],"mark":{"type":"text","align":"center","baseline":"middle","font":"Open Sans","fontWeight":"bold","fontSize":17,"color":"#2e2e2e"},"encoding":{"text":{"field":"t"}}},
      {"data":{"name":"e_text"},"transform":[{"filter":"datum.k == 'sv'"}],"mark":{"type":"text","align":"center","baseline":"middle","font":"Open Sans","fontWeight":"bold","fontSize":16,"color":"#3aaac0"},"encoding":{"text":{"field":"t"}}},
      {"data":{"name":"e_text"},"transform":[{"filter":"datum.k == 'aill'"}],"mark":{"type":"text","align":"center","baseline":"middle","font":"Open Sans","fontWeight":"bold","fontSize":17,"color":"#454545"},"encoding":{"text":{"field":"t"}}},
      {"data":{"name":"scat"},"transform":[{"filter":"datum.p == 'e'"}],"mark":{"type":"point","filled":true,"opacity":1,"size":95,"strokeWidth":1.1},"encoding":{
         "shape":{"field":"g","type":"nominal","scale":{"domain":["MCN","MCC","Diatreme","KNPM","Olivine","Diopside","ANPM"],"range":["square","square","square","square","circle","M0,-1.15 Q0.3,-0.55 0.6,-0.6 Q0.55,-0.3 1.15,0 Q0.55,0.3 0.6,0.6 Q0.3,0.55 0,1.15 Q-0.3,0.55 -0.6,0.6 Q-0.55,0.3 -1.15,0 Q-0.55,-0.3 -0.6,-0.6 Q-0.3,-0.55 0,-1.15 Z","circle"]},"legend":null},
         "fill":{"field":"g","type":"nominal","scale":{"domain":["MCN","MCC","Diatreme","KNPM","Olivine","Diopside","ANPM"],"range":["#a3a3f5","#3df09e","#ffffff","#8a8a8a","#ee1111","#ffb412","#9b9b9b"]},"legend":null},
         "stroke":{"field":"g","type":"nominal","scale":{"domain":["MCN","MCC","Diatreme","KNPM","Olivine","Diopside","ANPM"],"range":["#2323a8","#1ea565","#1c1c9c","#1a1a1a","#dd0000","#ef8e00","#1a1a1a"]},"legend":null}}},
      {"data":{"values":[{"x":111.8,"y":272,"t":"e"}]},"layer":[
        {"mark":{"type":"point","shape":"circle","filled":true,"opacity":1,"size":1550,"color":"#262626"}},
        {"mark":{"type":"text","font":"Liberation Serif","fontWeight":"bold","fontSize":28,"color":"white","baseline":"middle","align":"center"},"encoding":{"text":{"field":"t"}}}
      ]}
     ]},
    {"width": 446, "height": 326,
     "encoding": {
      "x": {"field":"x","type":"quantitative","scale":{"domain":[0,700],"nice":false,"zero":false},"axis":{"title":"Nb (ppm)","titleFontSize":19.5,"titleY":32,"titleBaseline":"top","values":[0,100,200,300,400,500,600,700],"tickSize":-15,"tickOpacity":{"condition":{"test":"indexof([100,300,400,500,600], datum.value) >= 0","value":1},"value":0},"labelPadding":18.5}},
      "y": {"field":"y","type":"quantitative","scale":{"domain":[0,20],"nice":false,"zero":false},"axis":{"title":"La/Y","titleFontSize":19,"titleX":-27,"titleY":148,"titleAngle":-90,"titleBaseline":"bottom","values":[0,5,10,15,20],"tickSize":-15,"tickOpacity":{"condition":{"test":"datum.value == 15","value":1},"value":0},"labelPadding":25}}
     },
     "layer": [
      {"data":{"name":"scat"},"transform":[{"filter":"datum.p == 'f'"}],"mark":{"type":"point","filled":true,"opacity":1,"size":100,"strokeWidth":1.1},"encoding":{
         "shape":{"field":"g","type":"nominal","scale":{"domain":["MCN","MCC","Diatreme","KNPM","Olivine","Diopside","ANPM"],"range":["square","square","square","square","circle","M0,-1.15 Q0.3,-0.55 0.6,-0.6 Q0.55,-0.3 1.15,0 Q0.55,0.3 0.6,0.6 Q0.3,0.55 0,1.15 Q-0.3,0.55 -0.6,0.6 Q-0.55,0.3 -1.15,0 Q-0.55,-0.3 -0.6,-0.6 Q-0.3,-0.55 0,-1.15 Z","circle"]},"legend":null},
         "fill":{"field":"g","type":"nominal","scale":{"domain":["MCN","MCC","Diatreme","KNPM","Olivine","Diopside","ANPM"],"range":["#a3a3f5","#3df09e","#ffffff","#8a8a8a","#ee1111","#ffb412","#9b9b9b"]},"legend":null},
         "stroke":{"field":"g","type":"nominal","scale":{"domain":["MCN","MCC","Diatreme","KNPM","Olivine","Diopside","ANPM"],"range":["#2323a8","#1ea565","#1c1c9c","#1a1a1a","#dd0000","#ef8e00","#1a1a1a"]},"legend":null}}},
      {"data":{"values":[{"x":657,"y":18.2,"t":"f"}]},"layer":[
        {"mark":{"type":"point","shape":"circle","filled":true,"opacity":1,"size":1550,"color":"#262626"}},
        {"mark":{"type":"text","font":"Liberation Serif","fontWeight":"bold","fontSize":28,"color":"white","baseline":"middle","align":"center"},"encoding":{"text":{"field":"t"}}}
      ]}
     ]}
   ], "spacing": 78, "bounds": "flush"}
  ], "spacing": 101, "bounds": "flush"}
 ], "spacing": 30},
 {"width": 1529, "height": 104, "view": {"stroke": null},
  "layer": [
   {"data":{"name":"leg_cells"},"mark":{"type":"rect","fill":"#ffffff","stroke":"#b4b4b4","strokeWidth":1.5},
    "encoding":{"x":{"field":"c0","type":"quantitative","scale":{"domain":[0,1,2,3,4],"range":[-21,311,707,1081,1529],"nice":false,"zero":false},"axis":null},"x2":{"field":"c1"},"y":{"field":"r0","type":"quantitative","scale":{"domain":[0,1,2],"range":[0,59,104],"nice":false,"zero":false},"axis":null},"y2":{"field":"r1"}}},
   {"data":{"name":"leg_items"},
    "encoding":{"x":{"field":"c","type":"quantitative","scale":{"domain":[0,1,2,3],"range":[15,349,737,1116],"nice":false,"zero":false},"axis":null},"y":{"field":"r","type":"quantitative","scale":{"domain":[0,1],"range":[33,87],"nice":false,"zero":false},"axis":null}},
    "layer":[
     {"mark":{"type":"point","filled":true,"opacity":1,"size":480,"strokeWidth":2.5},"encoding":{
         "shape":{"field":"g","type":"nominal","scale":{"domain":["MCN","MCC","Diatreme","KNPM","Olivine","Diopside","ANPM"],"range":["square","square","square","square","circle","M0,-1.15 Q0.3,-0.55 0.6,-0.6 Q0.55,-0.3 1.15,0 Q0.55,0.3 0.6,0.6 Q0.3,0.55 0,1.15 Q-0.3,0.55 -0.6,0.6 Q-0.55,0.3 -1.15,0 Q-0.55,-0.3 -0.6,-0.6 Q-0.3,-0.55 0,-1.15 Z","circle"]},"legend":null},
         "fill":{"field":"g","type":"nominal","scale":{"domain":["MCN","MCC","Diatreme","KNPM","Olivine","Diopside","ANPM"],"range":["#a3a3f5","#3df09e","#ffffff","#8a8a8a","#ee1111","#ffb412","#9b9b9b"]},"legend":null},
         "stroke":{"field":"g","type":"nominal","scale":{"domain":["MCN","MCC","Diatreme","KNPM","Olivine","Diopside","ANPM"],"range":["#2323a8","#1ea565","#1c1c9c","#1a1a1a","#dd0000","#ef8e00","#1a1a1a"]},"legend":null}}},
     {"mark":{"type":"text","align":"left","baseline":"middle","dx":36,"font":"Open Sans","fontSize":22,"color":"#333333"},"encoding":{"text":{"field":"t"}}}
    ]}
  ],
  "resolve": {"scale": {"x": "independent", "y": "independent"}}
 }
],
"spacing": 26
}
